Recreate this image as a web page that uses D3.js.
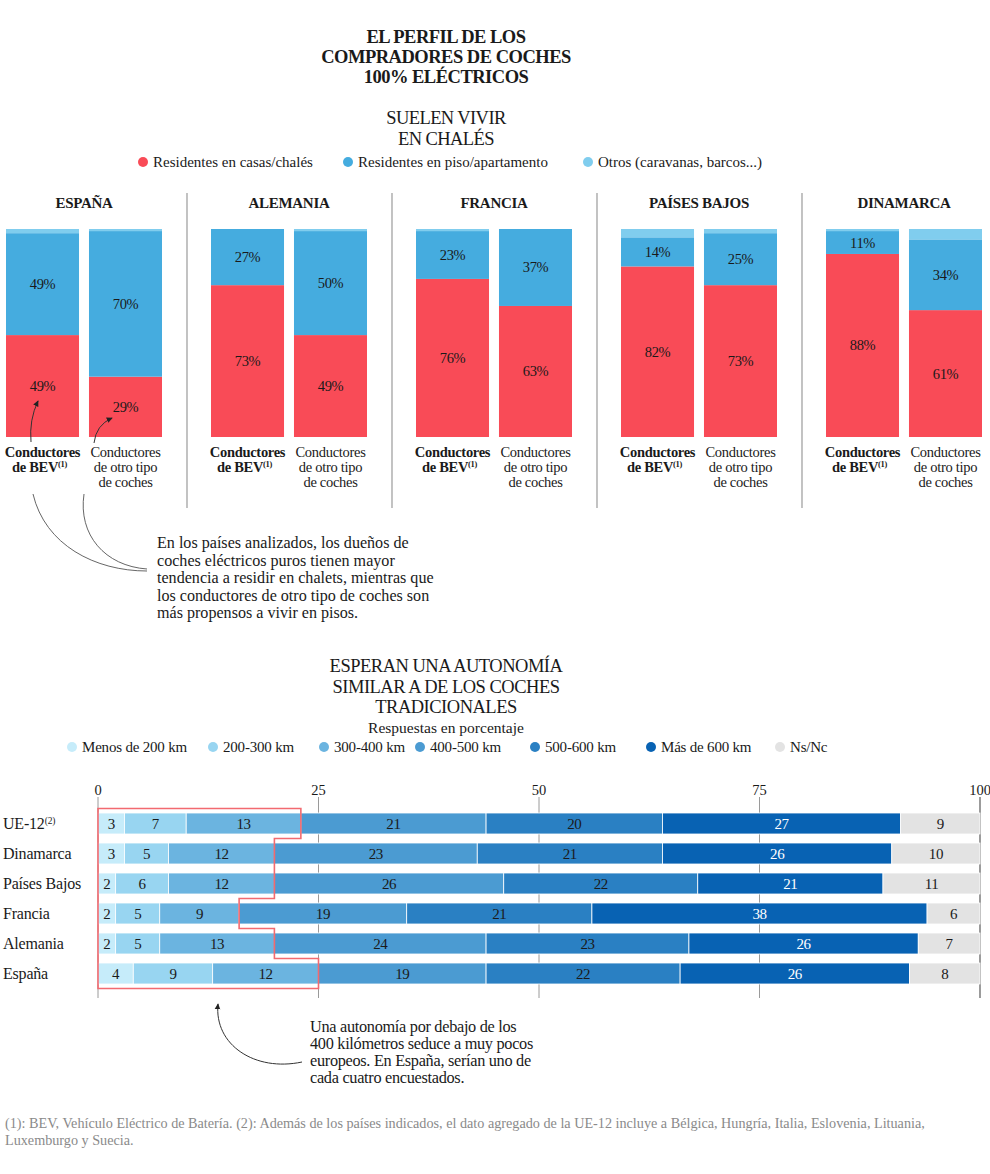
<!DOCTYPE html>
<html><head><meta charset="utf-8">
<script src="https://cdn.jsdelivr.net/npm/d3@7"></script>
<style>
html,body{margin:0;padding:0;background:#fff;}
svg text{font-family:"Liberation Serif","Times New Roman",serif;fill:#1a1a1a;}
</style></head>
<body>
<svg id="chart" width="990" height="1174"></svg>
<script>
// ---------- DATA: chart 1 ----------
const countries = ["ESPAÑA","ALEMANIA","FRANCIA","PAÍSES BAJOS","DINAMARCA"];
const groups = ["bev","other"];
const housingSeries = ["Residentes en casas/chalés","Residentes en piso/apartamento","Otros (caravanas, barcos...)"];
const casasBEV   = [49,73,76,82,88];
const pisoBEV    = [49,27,23,14,11];
const otrosBEV   = [2,0,1,4,1];
const casasOther = [29,49,63,73,61];
const pisoOther  = [70,50,37,25,34];
const otrosOther = [1,1,0,2,5];

// ---------- DATA: chart 2 ----------
const regions = ["UE-12","Dinamarca","Países Bajos","Francia","Alemania","España"];
const rangeSeries = ["Menos de 200 km","200-300 km","300-400 km","400-500 km","500-600 km","Más de 600 km","Ns/Nc"];
const menos200 = [3,3,2,2,2,4];
const r200_300 = [7,5,6,5,5,9];
const r300_400 = [13,12,12,9,13,12];
const r400_500 = [21,23,26,19,24,19];
const r500_600 = [20,21,22,21,23,22];
const mas600   = [27,26,21,38,26,26];
const nsnc     = [9,10,11,6,7,8];
const xTicks = [0,25,50,75,100];

// ---------- styles ----------
const housingColors = ["#f94b57","#45acdf","#80cdee"];
const rangeColors = ["#c6ecfa","#98d5f1","#6bb4e0","#4b9bd2","#2a80c3","#0862b3","#e3e3e3"];

const svg = d3.select("#chart");
const defs = svg.append("defs");
defs.append("marker").attr("id","arr").attr("viewBox","0 0 8 8").attr("refX",6).attr("refY",4)
  .attr("markerWidth",7).attr("markerHeight",7).attr("orient","auto")
  .append("path").attr("d","M0,0.8 L7,4 L0,7.2 Z").attr("fill","#222");

function lines(x, y0, lh, arr, opts){
  const t = svg.append("text").attr("x",x).attr("y",y0)
    .attr("text-anchor",opts.anchor||"middle").style("font-size",opts.size+"px")
    .style("font-weight",opts.weight||"normal").style("letter-spacing",(opts.ls||0)+"px");
  if(opts.fill) t.style("fill",opts.fill);
  arr.forEach((s,i)=>t.append("tspan").attr("x",x).attr("y",y0+i*lh).text(s));
  return t;
}

// Titles
lines(446,43,20,["EL PERFIL DE LOS","COMPRADORES DE COCHES","100% ELÉCTRICOS"],{size:18.5,weight:"bold",ls:-0.5});
lines(446,124,21,["SUELEN VIVIR","EN CHALÉS"],{size:18.5,ls:-0.6});

// Legend 1
const leg1X = [143,348,588];
housingSeries.forEach((s,i)=>{
  svg.append("circle").attr("cx",leg1X[i]).attr("cy",162).attr("r",5).attr("fill",housingColors[i]);
  svg.append("text").attr("x",leg1X[i]+10).attr("y",167).style("font-size","15px").text(s);
});

// Chart 1 scales
const panel = d3.scaleBand().domain(countries).range([0,1025]);
const inner = d3.scaleBand().domain(groups).range([6,162]).paddingInner(0.12);
const y1 = d3.scaleLinear().domain([0,100]).range([437,229]);

countries.forEach((c,ci)=>{
  const px = panel(c);
  const cx = px + 6 + 78;
  svg.append("text").attr("x",cx).attr("y",208).attr("text-anchor","middle")
    .style("font-size","15px").style("font-weight","bold").style("letter-spacing","-0.3px").text(c);
  const vals = {bev:[casasBEV[ci],pisoBEV[ci],otrosBEV[ci]], other:[casasOther[ci],pisoOther[ci],otrosOther[ci]]};
  groups.forEach(g=>{
    let acc = 0;
    vals[g].forEach((v,si)=>{
      if(v<=0) return;
      const x = px + inner(g);
      svg.append("rect").attr("x",x).attr("width",inner.bandwidth())
        .attr("y",y1(acc+v)).attr("height",y1(acc)-y1(acc+v)).attr("fill",housingColors[si]);
      if(si<2){
        svg.append("text").attr("x",x+inner.bandwidth()/2).attr("y",(y1(acc)+y1(acc+v))/2+5)
          .attr("text-anchor","middle").style("font-size","14.5px").style("letter-spacing","-0.4px").text(v+"%");
      }
      acc += v;
    });
  });
  // category labels
  const bx = px + inner("bev") + inner.bandwidth()/2;
  const ox = px + inner("other") + inner.bandwidth()/2;
  const tb = svg.append("text").attr("text-anchor","middle").style("font-size","14.5px").style("font-weight","bold").style("letter-spacing","-0.3px");
  tb.append("tspan").attr("x",bx).attr("y",457).text("Conductores");
  tb.append("tspan").attr("x",bx-3).attr("y",472).text("de BEV");
  tb.append("tspan").attr("dy",-5).style("font-size","8.5px").text("(1)");
  lines(ox,457,15,["Conductores","de otro tipo","de coches"],{size:14.5,ls:-0.3});
  if(ci<countries.length-1){
    svg.append("line").attr("x1",px+187).attr("x2",px+187).attr("y1",193).attr("y2",508)
      .attr("stroke","#9a9a9a").attr("stroke-width",1.2);
  }
});

// annotation arrows chart 1
svg.append("path").attr("d","M31,442 Q29,420 38,401").attr("fill","none").attr("stroke","#333").attr("stroke-width",1).attr("marker-end","url(#arr)");
svg.append("path").attr("d","M94,443 Q96,425 112,418").attr("fill","none").attr("stroke","#333").attr("stroke-width",1).attr("marker-end","url(#arr)");
svg.append("path").attr("d","M33,494 C45,545 95,571 147,571").attr("fill","none").attr("stroke","#555").attr("stroke-width",0.9);
svg.append("path").attr("d","M84,494 C78,535 105,566 147,569").attr("fill","none").attr("stroke","#555").attr("stroke-width",0.9);
lines(157,548,17.6,["En los países analizados, los dueños de","coches eléctricos puros tienen mayor","tendencia a residir en chalets, mientras que","los conductores de otro tipo de coches son","más propensos a vivir en pisos."],{size:16.1,anchor:"start",ls:0});

// Chart 2 titles
lines(446,672,20.5,["ESPERAN UNA AUTONOMÍA","SIMILAR A DE LOS COCHES","TRADICIONALES"],{size:18.5,ls:-0.5});
svg.append("text").attr("x",446).attr("y",733).attr("text-anchor","middle").style("font-size","15.5px").text("Respuestas en porcentaje");
const leg2X = [72,213,324,420,535,651,780];
rangeSeries.forEach((s,i)=>{
  svg.append("circle").attr("cx",leg2X[i]).attr("cy",747).attr("r",5).attr("fill",rangeColors[i]);
  svg.append("text").attr("x",leg2X[i]+10).attr("y",752).style("font-size","15px").style("letter-spacing","-0.2px").text(s);
});

// Chart 2 scales
const x2 = d3.scaleLinear().domain([0,100]).range([98,980]);
const y2 = d3.scaleBand().domain(regions).range([808.5,988.5]).paddingInner(0.3).paddingOuter(0.15);
const rangeVals = [menos200,r200_300,r300_400,r400_500,r500_600,mas600,nsnc];

// gridlines + ticks
xTicks.forEach(t=>{
  svg.append("line").attr("x1",x2(t)).attr("x2",x2(t)).attr("y1",797).attr("y2",998)
    .attr("stroke", t===100?"#666":"#9a9a9a").attr("stroke-width", t===100?1.3:1);
  svg.append("text").attr("x",x2(t)).attr("y",795).attr("text-anchor","middle").style("font-size","14.5px").text(t);
});

regions.forEach((r,ri)=>{
  let acc = 0;
  const yy = y2(r), bh = y2.bandwidth();
  rangeVals.forEach((arr,si)=>{
    const v = arr[ri];
    svg.append("rect").attr("x",x2(acc)).attr("width",x2(acc+v)-x2(acc)).attr("y",yy).attr("height",bh)
      .attr("fill",rangeColors[si]).attr("stroke","#fff").attr("stroke-width",0.8);
    svg.append("text").attr("x",(x2(acc)+x2(acc+v))/2).attr("y",yy+bh/2+5).attr("text-anchor","middle")
      .style("font-size","15px").style("letter-spacing","-0.4px").style("fill", si===5?"#fff":"#1a1a1a").text(v);
    acc += v;
  });
  const lt = svg.append("text").attr("x",3).attr("y",yy+bh/2+5).style("font-size","16px").style("letter-spacing","-0.2px");
  if(r==="UE-12"){ lt.append("tspan").text("UE-12"); lt.append("tspan").attr("dy",-5).style("font-size","9.5px").text("(2)"); }
  else lt.text(r);
});

// red outline of < 400 km
const half = (y2.step()-y2.bandwidth())/2;
const pts = [];
pts.push([x2(0), y2(regions[0])-half]);
regions.forEach((r,ri)=>{
  const xv = x2(menos200[ri]+r200_300[ri]+r300_400[ri]);
  pts.push([xv, y2(r)-half]);
  pts.push([xv, y2(r)+y2.bandwidth()+half]);
});
pts.push([x2(0), y2(regions[regions.length-1])+y2.bandwidth()+half]);
svg.append("path").attr("d",d3.line()(pts)+"Z").attr("fill","none").attr("stroke","#f26a70").attr("stroke-width",1.6);

// annotation chart 2
svg.append("path").attr("d","M302,1062 C255,1072 214,1045 218,1004").attr("fill","none").attr("stroke","#333").attr("stroke-width",1).attr("marker-end","url(#arr)");
lines(310,1032,17,["Una autonomía por debajo de los","400 kilómetros seduce a muy pocos","europeos. En España, serían uno de","cada cuatro encuestados."],{size:16.3,anchor:"start",ls:-0.3});

// footnote
lines(5,1128,16.5,["(1): BEV, Vehículo Eléctrico de Batería. (2): Además de los países indicados, el dato agregado de la UE-12 incluye a Bélgica, Hungría, Italia, Eslovenia, Lituania,","Luxemburgo y Suecia."],{size:14.2,anchor:"start",fill:"#8a8a8a",ls:0});
</script>
</body></html>
